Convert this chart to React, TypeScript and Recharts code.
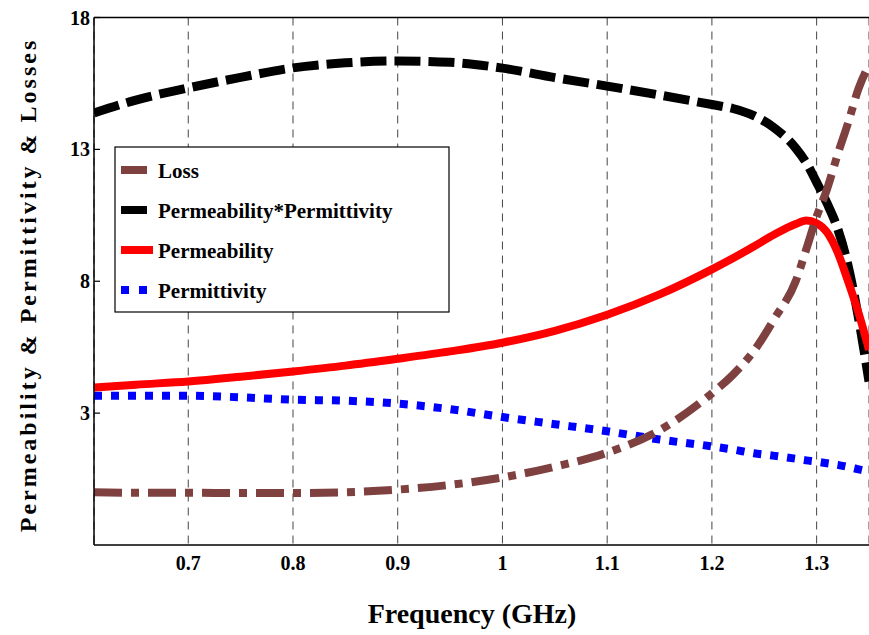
import { LineChart, Line, XAxis, YAxis, CartesianGrid, ReferenceLine } from "recharts";

// frequency samples (GHz)
const freq = [0.61, 0.65, 0.7, 0.75, 0.8, 0.85, 0.9, 0.95, 1.0, 1.05, 1.1, 1.15, 1.2, 1.22, 1.24, 1.26, 1.28, 1.29, 1.3, 1.31, 1.32, 1.33, 1.34, 1.35];

const loss = [0.0, -0.02, -0.02, -0.03, -0.03, 0.0, 0.1, 0.28, 0.56, 0.97, 1.5, 2.35, 3.75, 4.45, 5.35, 6.6, 8.0, 9.2, 10.45, 11.5, 12.8, 14.0, 15.3, 16.2];
const product = [14.38, 14.87, 15.33, 15.73, 16.09, 16.28, 16.35, 16.3, 16.08, 15.72, 15.4, 15.06, 14.7, 14.55, 14.28, 13.8, 13.05, 12.5, 11.75, 10.95, 10.0, 8.6, 6.6, 4.2];
const permeability = [3.97, 4.08, 4.2, 4.38, 4.58, 4.8, 5.06, 5.34, 5.67, 6.12, 6.73, 7.5, 8.45, 8.87, 9.32, 9.78, 10.17, 10.3, 10.2, 9.85, 9.1, 8.0, 6.8, 5.4];
const permittivity = [3.66, 3.66, 3.66, 3.6, 3.51, 3.47, 3.36, 3.15, 2.85, 2.58, 2.31, 2.0, 1.74, 1.62, 1.48, 1.38, 1.27, 1.21, 1.16, 1.1, 1.04, 0.96, 0.87, 0.78];

const xTicks = [0.7, 0.8, 0.9, 1, 1.1, 1.2, 1.3];
const yTicks = [3, 8, 13, 18];

const data = freq.map((f, i) => ({
  f,
  loss: loss[i],
  product: product[i],
  permeability: permeability[i],
  permittivity: permittivity[i],
}));

const FONT = "'Liberation Serif', 'Times New Roman', serif";

// legend order as in the figure
const series = [
  { key: "loss", name: "Loss", color: "#7F4040", width: 8, dash: "28 9 8 9", sampleDash: undefined, sampleLen: 26 },
  { key: "product", name: "Permeability*Permittivity", color: "#000000", width: 9, dash: "26 8", sampleDash: undefined, sampleLen: 26 },
  { key: "permeability", name: "Permeability", color: "#FF0000", width: 8, dash: undefined, sampleDash: undefined, sampleLen: 32 },
  { key: "permittivity", name: "Permittivity", color: "#0000FF", width: 8, dash: "8 9", sampleDash: "8 10", sampleLen: 26 },
];

// draw order: loss ends up on top
const drawOrder = ["product", "permittivity", "permeability", "loss"];

const XTick = (props: any) => {
  const { x, y, payload } = props;
  return (
    <text x={x} y={y + 25} textAnchor="middle" fontFamily={FONT} fontWeight="bold" fontSize={20} fill="#000">
      {payload.value}
    </text>
  );
};

const YTick = (props: any) => {
  const { x, y, payload } = props;
  return (
    <g>
      <line x1={x} x2={x + 6} y1={y} y2={y} stroke="#000" strokeWidth={1.2} />
      <text x={x - 4} y={y + 7} textAnchor="end" fontFamily={FONT} fontWeight="bold" fontSize={20} fill="#000">
        {payload.value}
      </text>
    </g>
  );
};

export default function App() {
  return (
    <div style={{ position: "absolute", left: 0, top: 0, width: 869, height: 635, background: "#fff" }}>
      <LineChart width={869} height={635} data={data} margin={{ top: 17.5, right: 0, bottom: 60, left: 0 }}>
        <CartesianGrid horizontal={false} stroke="#444" strokeDasharray="8 6" strokeWidth={1} />
        <XAxis
          dataKey="f"
          type="number"
          domain={[0.61, 1.35]}
          ticks={xTicks}
          allowDataOverflow
          height={30}
          tickSize={0}
          tickMargin={0}
          tickLine={false}
          axisLine={{ stroke: "#000", strokeWidth: 1.5 }}
          tick={<XTick />}
        />
        <YAxis
          type="number"
          domain={[-2, 18]}
          ticks={yTicks}
          allowDataOverflow
          width={94}
          tickSize={0}
          tickMargin={0}
          tickLine={false}
          axisLine={{ stroke: "#000", strokeWidth: 1.5 }}
          tick={<YTick />}
        />
        <ReferenceLine y={18} stroke="#000" strokeWidth={1.5} ifOverflow="extendDomain" />
        {drawOrder.map((k) => {
          const s = series.find((d) => d.key === k)!;
          return (
            <Line
              key={s.key}
              type="monotone"
              dataKey={s.key}
              name={s.name}
              stroke={s.color}
              strokeWidth={s.width}
              strokeDasharray={s.dash}
              dot={false}
              activeDot={false}
              isAnimationActive={false}
            />
          );
        })}
      </LineChart>

      {/* titles + legend overlay */}
      <svg
        width={869}
        height={635}
        style={{ position: "absolute", left: 0, top: 0, pointerEvents: "none" }}
      >
        <text
          x={472}
          y={623}
          textAnchor="middle"
          fontFamily={FONT}
          fontWeight="bold"
          fontSize={28}
          fill="#000"
        >
          Frequency (GHz)
        </text>
        <text
          transform="translate(36, 285) rotate(-90)"
          textAnchor="middle"
          fontFamily={FONT}
          fontWeight="bold"
          fontSize={24}
          letterSpacing={3}
          fill="#000"
        >
          Permeability &amp; Permittivity &amp; Losses
        </text>

        <g transform="translate(115, 147)">
          <rect x={0} y={0} width={334} height={165} fill="#fff" stroke="#000" strokeWidth={1.2} />
          {series.map((s, i) => (
            <g key={s.key}>
              <line
                x1={6}
                x2={6 + s.sampleLen}
                y1={23 + i * 40}
                y2={23 + i * 40}
                stroke={s.color}
                strokeWidth={8}
                strokeDasharray={s.sampleDash}
              />
              <text x={43} y={31 + i * 40} fontFamily={FONT} fontWeight="bold" fontSize={21} fill="#000">
                {s.name}
              </text>
            </g>
          ))}
        </g>
      </svg>
    </div>
  );
}
